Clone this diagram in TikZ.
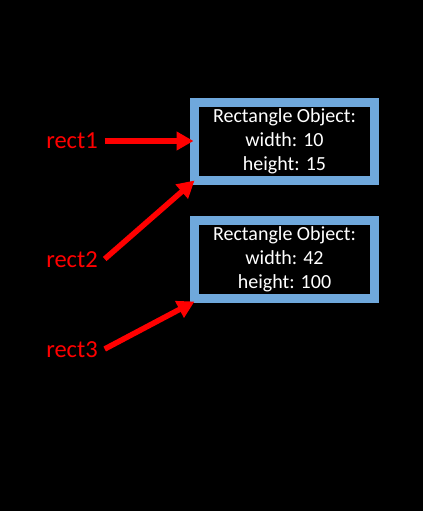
\documentclass[tikz,border=0pt]{standalone}
\usepackage{fontspec}
\setmainfont{Carlito}
\usetikzlibrary{arrows.meta}
\definecolor{boxblue}{RGB}{111,168,220}
\definecolor{arrred}{RGB}{255,0,0}
\begin{document}
\begin{tikzpicture}[x=1pt,y=-1pt,
  objbox/.style={draw=boxblue, line width=9pt, outer sep=0pt, inner sep=0pt,
    minimum width=180pt, minimum height=78.5pt, text=white, align=center,
    font=\fontsize{20pt}{24pt}\selectfont},
  reflabel/.style={text=arrred, inner xsep=7pt, inner ysep=0pt, outer sep=0pt,
    font=\fontsize{24.5pt}{28pt}\selectfont},
  refarrow/.style={draw=arrred, line width=5.5pt, -{Triangle[length=17pt,width=18pt]}}]
\fill[black] (0,0) rectangle (423,511);
\useasboundingbox (0,0) rectangle (423,511);
\node[objbox] (box1) at (284.5,141.25) {Rectangle Object:\\width: 10\\height: 15};
\node[objbox] (box2) at (284.5,259.25) {Rectangle Object:\\width: 42\\height: 100};
\node[reflabel] (rect1) at (72,141) {rect1};
\node[reflabel] (rect2) at (72,260) {rect2};
\node[reflabel] (rect3) at (72,350) {rect3};
\draw[refarrow] (rect1.east) -- ([xshift=-1pt]box1.west |- rect1.east);
\draw[refarrow] ([yshift=1pt]rect2.east) -- (box1.south west);
\draw[refarrow] ([yshift=1pt]rect3.east) -- ([yshift=-3pt]box2.south west);
\end{tikzpicture}
\end{document}
